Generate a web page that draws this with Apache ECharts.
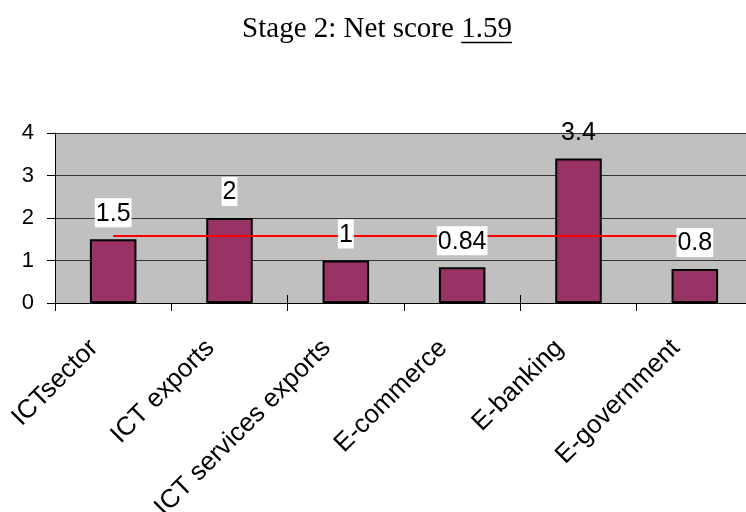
<!DOCTYPE html>
<html>
<head>
<meta charset="utf-8">
<script src="https://cdn.jsdelivr.net/npm/echarts@6/dist/echarts.min.js"></script>
<style>
  html, body { margin: 0; padding: 0; background: #fff; }
  #chart { width: 746px; height: 512px; }
</style>
</head>
<body>
<div id="chart"></div>
<script>
// Indicator categories and their stage-2 scores
const categories = ['ICTsector', 'ICT exports', 'ICT services exports', 'E-commerce', 'E-banking', 'E-government'];
const scores = [1.5, 2, 1, 0.84, 3.4, 0.8];
const netScore = 1.59;
const titleText = 'Stage 2: Net score ';
const netScoreText = '1.59';
const yMin = 0, yMax = 4, yStep = 1;

// Title pieces are measured so the underline sits exactly under the score
const titleFont = '29px "Liberation Serif", "Times New Roman", serif';
const ctx = document.createElement('canvas').getContext('2d');
ctx.font = titleFont;
const wMain = ctx.measureText(titleText).width;
const wScore = ctx.measureText(netScoreText).width;
const titleCenter = 377;
const titleLeft = titleCenter - (wMain + wScore) / 2;
const titleY = 29;
const underlineY = 42.5;

const chart = echarts.init(document.getElementById('chart'), null, { renderer: 'canvas' });

const labelFont = '"Liberation Sans", Arial, sans-serif';

// Labels that rise above the top of the axis range are drawn without the white box
const labelData = scores.map(v =>
  v > yMax - 1 ? { value: v, label: { backgroundColor: 'transparent' } } : v
);

chart.setOption({
  animation: false,
  backgroundColor: '#ffffff',
  graphic: [
    { type: 'text', x: titleLeft, y: titleY,
      style: { text: titleText, font: titleFont, fill: '#000', verticalAlign: 'middle', align: 'left' } },
    { type: 'text', x: titleLeft + wMain, y: titleY,
      style: { text: netScoreText, font: titleFont, fill: '#000', verticalAlign: 'middle', align: 'left' } },
    { type: 'line',
      shape: { x1: titleLeft + wMain, y1: underlineY, x2: titleLeft + wMain + wScore, y2: underlineY },
      style: { stroke: '#000', lineWidth: 1.5 } }
  ],
  grid: {
    left: 55, right: -7, top: 133, bottom: 209,
    outerBoundsMode: 'none',
    containLabel: false,
    show: true, backgroundColor: '#c0c0c0', borderWidth: 0
  },
  xAxis: [
    {
      type: 'category',
      data: categories,
      axisLine: { lineStyle: { color: '#000', width: 1 } },
      axisTick: { show: true, length: 8, lineStyle: { color: '#000' } },
      axisLabel: {
        rotate: 45, fontSize: 26, fontFamily: labelFont, color: '#000',
        margin: 22, padding: [0, 27, 0, 0], interval: 0
      }
    },
    {
      // inner half of the crossing tick marks
      type: 'category',
      position: 'bottom',
      data: categories,
      axisLine: { show: false },
      axisTick: { show: true, inside: true, length: 8, lineStyle: { color: '#000' } },
      axisLabel: { show: false }
    }
  ],
  yAxis: {
    type: 'value',
    min: yMin, max: yMax, interval: yStep,
    axisLine: { show: true, lineStyle: { color: '#000' } },
    axisTick: { show: true, length: 8, lineStyle: { color: '#000' } },
    axisLabel: { fontSize: 22, fontFamily: labelFont, color: '#000', margin: 21 },
    splitLine: { show: true, lineStyle: { color: '#333', width: 1 } }
  },
  series: [
    {
      type: 'bar',
      data: scores,
      barWidth: '40%',
      z: 2,
      itemStyle: { color: '#993366', borderColor: '#000', borderWidth: 2 },
      emphasis: { disabled: true },
      markLine: {
        silent: true,
        symbol: 'none',
        z: 3,
        label: { show: false },
        lineStyle: { color: '#ff0000', width: 2, type: 'solid' },
        data: [[
          { xAxis: categories[0], yAxis: netScore },
          { xAxis: categories[categories.length - 1], yAxis: netScore }
        ]]
      }
    },
    {
      // value labels drawn above the net-score line
      type: 'bar',
      data: labelData,
      barWidth: '40%',
      barGap: '-100%',
      z: 4,
      silent: true,
      itemStyle: { color: 'rgba(0,0,0,0)', borderWidth: 0 },
      emphasis: { disabled: true },
      label: {
        show: true, position: 'top', distance: 12,
        fontSize: 25, fontFamily: labelFont, color: '#000',
        backgroundColor: '#fff', padding: [3, 1, 1, 1]
      }
    }
  ]
});
</script>
</body>
</html>
